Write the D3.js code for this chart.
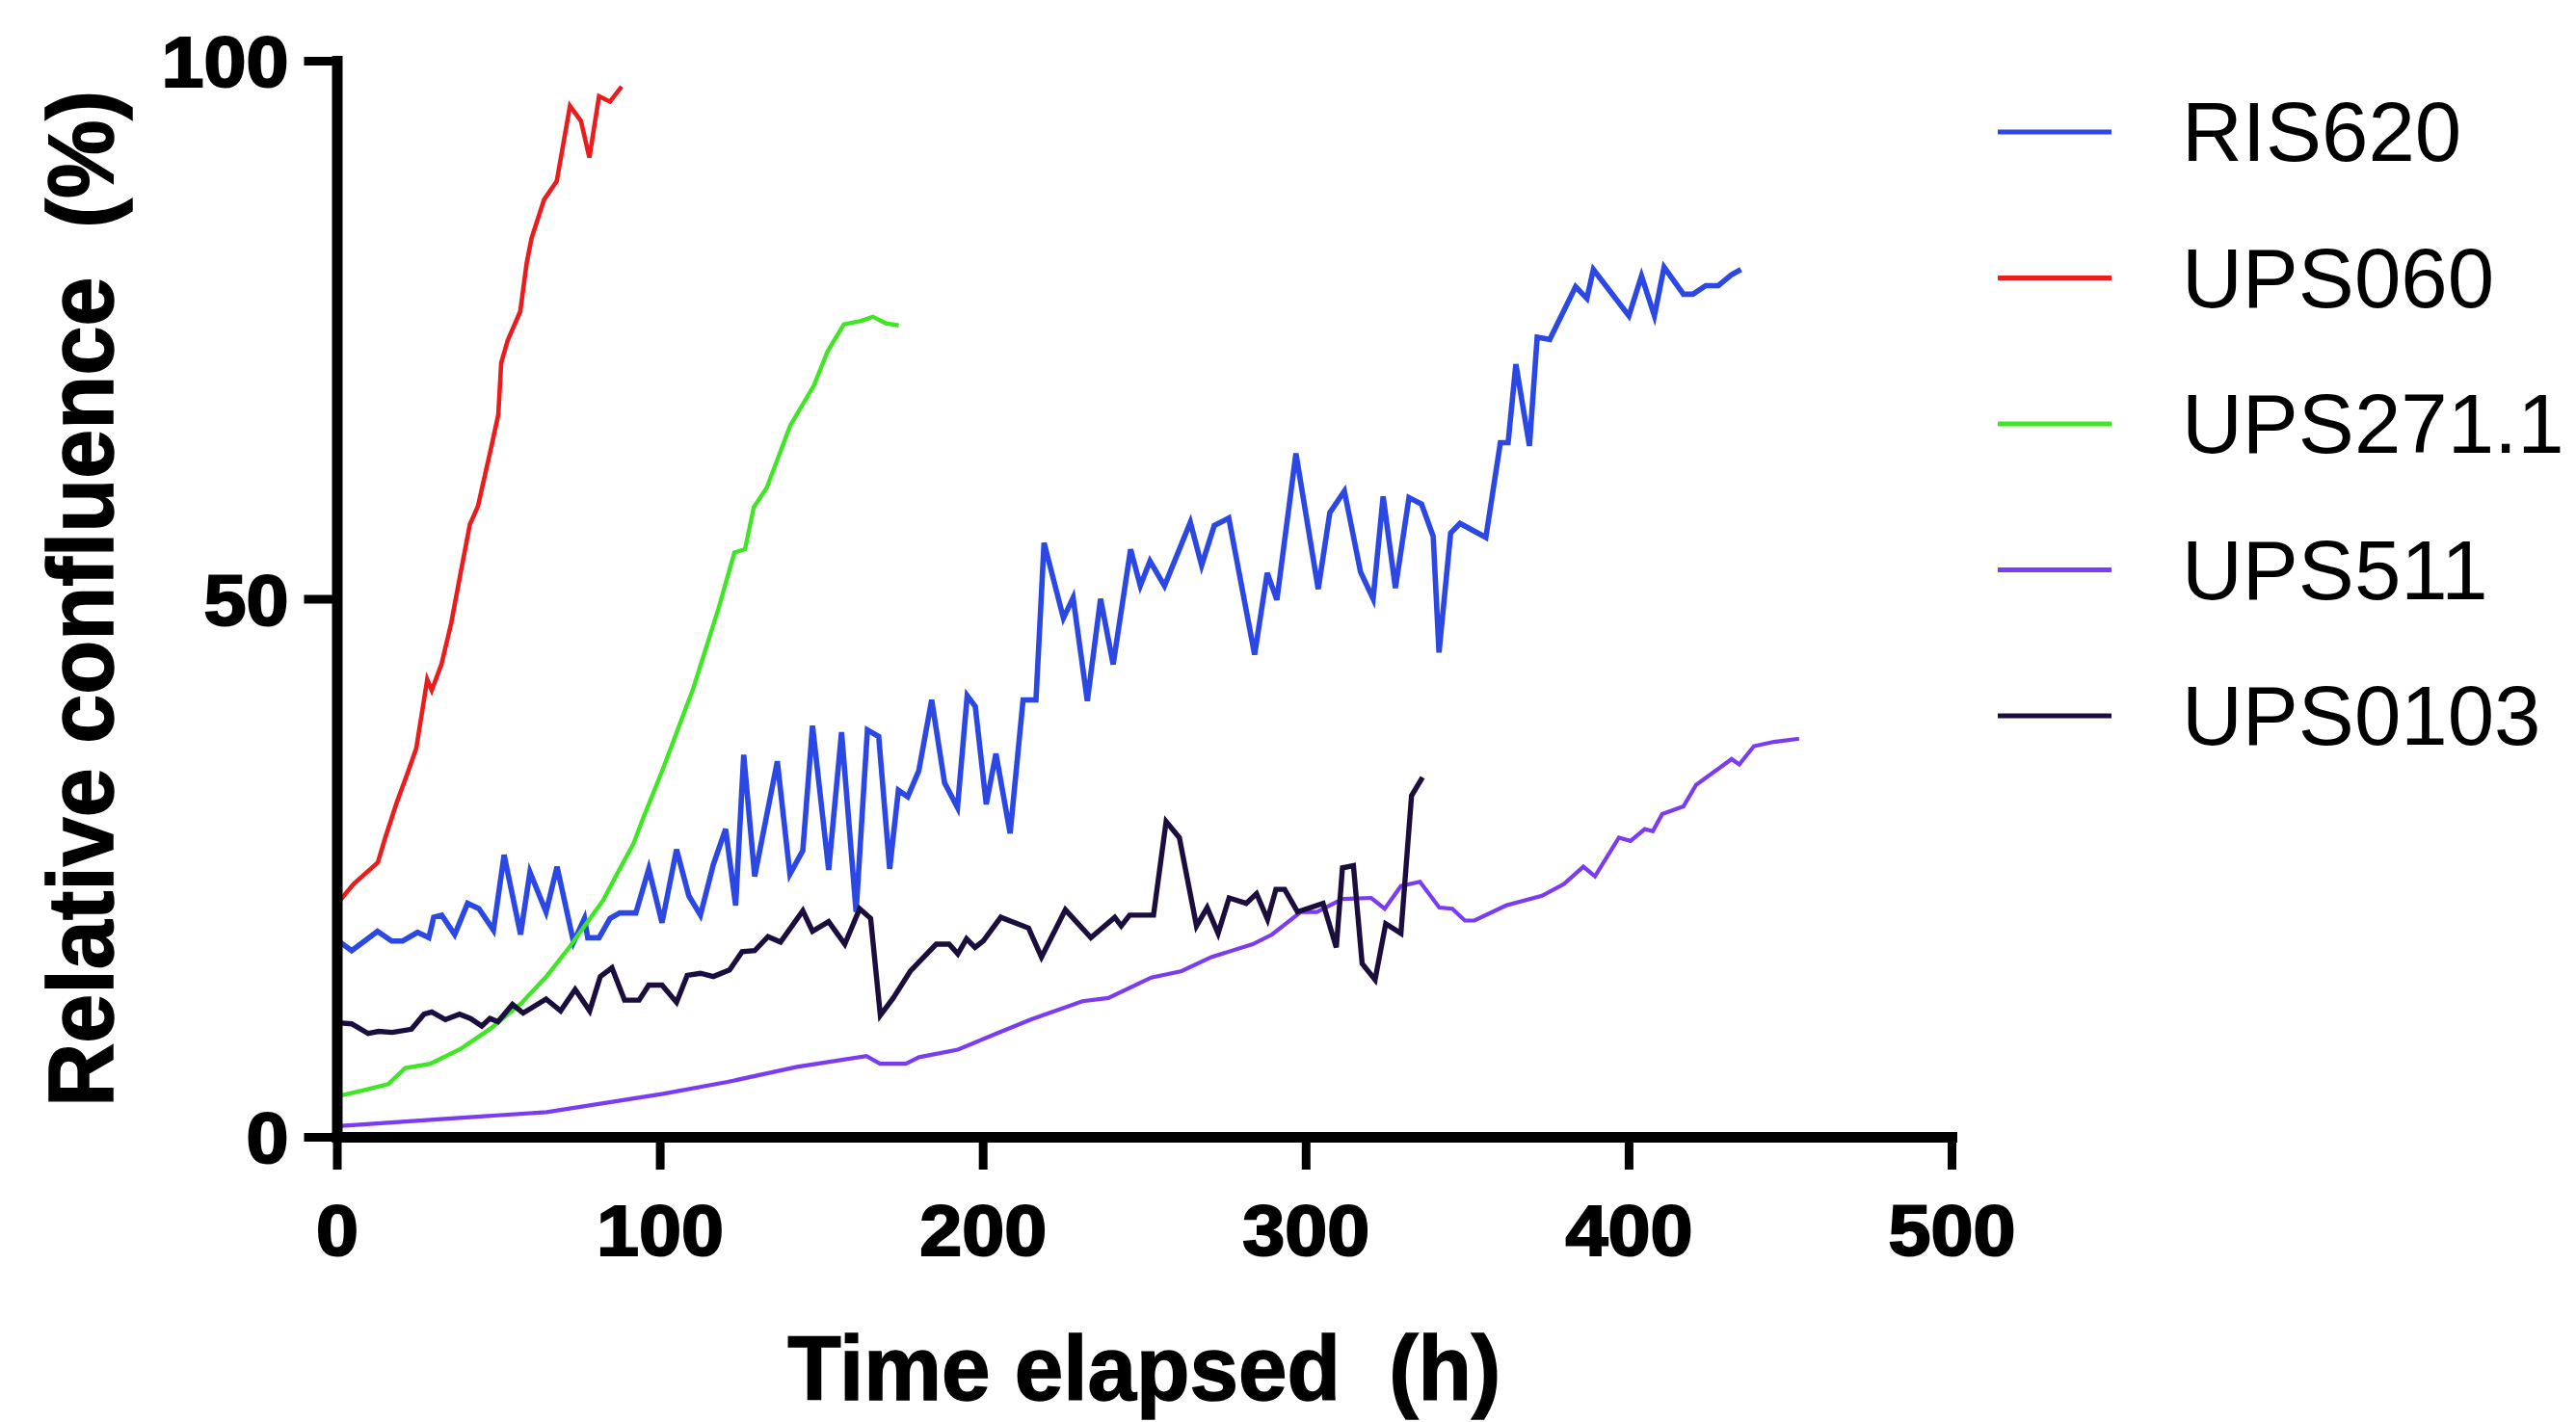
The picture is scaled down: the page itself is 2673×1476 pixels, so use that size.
<!DOCTYPE html>
<html>
<head>
<meta charset="utf-8">
<script src="https://cdn.jsdelivr.net/npm/d3@7"></script>
<style>
  body { margin: 0; background: #fff; }
  text { font-family: "Liberation Sans", Arial, sans-serif; }
</style>
</head>
<body>
<script>
// series: [time (h), relative confluence (%)]
const ris620 = [[0.5,18.2],[4.6,17.3],[12.6,19.1],[17,18.2],[20.4,18.2],[25,19.0],[28.5,18.5],[30,20.4],[32.5,20.6],[36.5,18.8],[40.5,21.7],[44,21.2],[48.5,19.2],[51.8,26.2],[56.9,18.8],[59.8,24.6],[64.8,20.9],[68.2,25.1],[73.3,18.1],[76.7,20.3],[77.7,18.5],[81.2,18.5],[84.6,20.3],[87.6,20.8],[92.6,20.8],[96.6,24.9],[100.7,19.9],[105.2,26.7],[109,22.4],[112.6,20.6],[116.6,25.3],[120.4,28.6],[123.5,21.5],[126,35.5],[129.4,24.2],[136.4,34.9],[140.3,24.4],[144.3,26.6],[147.3,38.2],[152.3,24.8],[156.3,37.6],[160.8,20.9],[164.3,37.8],[167.8,37.2],[171.2,24.9],[173.9,32.2],[176.8,31.6],[180.2,34.0],[184.2,40.6],[188.2,32.9],[192.2,30.6],[195.2,41.0],[197.7,40.0],[201.1,30.9],[204.1,35.6],[208.5,28.2],[212.5,40.6],[216.5,40.6],[219,55.2],[225,48.2],[228,50.1],[232.4,40.5],[236.5,50.0],[240.4,43.9],[245.8,54.6],[248.8,51.2],[251.8,53.5],[256.3,51.2],[264.3,57.1],[267.8,53.1],[271.7,56.8],[276.2,57.5],[284.2,44.8],[288.1,52.4],[291.1,49.9],[297,63.5],[303.9,50.9],[307.5,58.0],[312,60],[317,52.5],[320.9,50.0],[324,59.5],[327.8,51.0],[332,59.4],[335.9,58.8],[339.5,55.8],[341.3,45.0],[344.9,56.1],[347.8,57.0],[355.8,55.7],[360.3,64.5],[362.7,64.5],[365.1,71.8],[369.3,64.2],[371.7,74.3],[375.6,74.1],[383.6,79.0],[387.1,77.9],[389.1,80.6],[400.1,76.3],[404,80.0],[408,76.3],[411,80.8],[417,78.3],[419.9,78.3],[423.9,79.1],[427.8,79.1],[431.8,80.1],[434.8,80.6]];
const ups060 = [[0.5,21.8],[5.2,23.5],[12.7,25.5],[15,27.8],[18.6,31.1],[21.9,33.8],[24.6,36.1],[28,42.5],[29.4,41.5],[32.4,43.9],[35.4,47.7],[38.4,52.5],[41.2,56.9],[43.7,58.6],[47.9,64.2],[50,67.1],[50.9,71.9],[52.9,74.0],[56.8,76.7],[58.8,81.2],[60.3,83.5],[64.2,87.1],[68.1,88.8],[72.2,95.8],[75.6,94.4],[78.2,91.0],[81.2,96.7],[84.6,96.2],[88.2,97.6]];
const ups271 = [[0.5,3.8],[8,4.3],[15.9,4.9],[21.2,6.4],[29,6.8],[38.5,8.2],[47.8,10.1],[57.1,12.4],[65.2,15.0],[72.2,17.7],[82.5,22.0],[86.7,24.4],[91.8,27.2],[94.7,29.5],[101,34.2],[110.4,41.7],[118.3,49.2],[123.1,54.3],[126.4,54.6],[129.1,58.5],[133.1,60.3],[140.4,66.1],[147.7,69.8],[152,73],[157,75.5],[162,75.8],[166,76.2],[170,75.6],[174,75.4]];
const ups511 = [[0.5,1.0],[30,1.6],[65,2.3],[101,4.0],[121,5.1],[142.5,6.5],[164,7.5],[168.2,6.8],[176.2,6.8],[180.3,7.4],[192.3,8.1],[204.3,9.6],[214.9,10.9],[230.9,12.6],[238.9,12.9],[252.2,14.8],[261.6,15.4],[270.8,16.7],[283.6,17.9],[289.6,18.8],[298.5,20.9],[303.5,20.9],[311.4,22.1],[320.3,22.2],[324.5,21.2],[329.5,23.3],[335.4,23.7],[341.4,21.3],[345.4,21.2],[349.3,20.1],[352.3,20.1],[362.1,21.5],[373.2,22.4],[380,23.5],[386,25.1],[389.6,24.2],[397,27.8],[400.6,27.5],[405,28.6],[407.5,28.4],[410.4,30.0],[417,30.7],[420.9,32.7],[431.9,35.1],[434.3,34.6],[438.8,36.3],[445,36.7],[452.8,37.0]];
const ups0103 = [[0.5,10.6],[4.6,10.5],[9.7,9.6],[13,9.8],[17.1,9.7],[23.1,10.0],[27,11.4],[29.4,11.6],[33.6,10.9],[38,11.4],[41.4,11.0],[44.9,10.3],[47.4,11.0],[49.9,10.7],[54.4,12.3],[57.7,11.5],[64.8,12.8],[69.3,11.7],[73.8,13.7],[78.3,11.7],[81.6,14.9],[85.2,15.7],[89.1,12.7],[93.6,12.7],[96.6,14.1],[100.7,14.1],[105.2,12.5],[108.5,15.0],[112.6,15.2],[116.6,14.9],[121.6,15.5],[125.5,17.2],[129.4,17.3],[133.5,18.6],[137.4,18.1],[144.3,21.0],[147.3,19.1],[152.3,20.0],[157.3,17.9],[161.9,21.2],[165.3,20.3],[168.3,11.3],[172.3,12.9],[177.6,15.4],[185.6,17.9],[189.6,17.9],[192.3,17.0],[195,18.4],[197.6,17.6],[200.2,18.2],[205.6,20.4],[214.2,19.4],[218.2,16.7],[225.6,21.1],[233.5,18.5],[240.9,20.4],[242.9,19.6],[245.5,20.6],[252.9,20.6],[256.8,29.3],[260.9,27.8],[266.2,19.6],[269.5,21.3],[272.9,18.9],[276.3,22.2],[281.6,21.7],[284.8,22.6],[288.2,20.2],[290.8,23.0],[293.5,23.0],[297.5,20.9],[305.4,21.7],[309.5,17.6],[311.4,25.0],[314.8,25.2],[317.5,16.1],[321.5,14.6],[324.8,19.8],[329.5,18.9],[332.8,31.7],[336.2,33.4]];

const seriesNames = ["RIS620", "UPS060", "UPS271.1", "UPS511", "UPS0103"];
const seriesData = [ris620, ups060, ups271, ups511, ups0103];
const seriesColors = ["#2b47e4", "#ea1c1c", "#3ee624", "#7a3cf2", "#1b0d3e"];
const seriesWidths = [5.6, 4.6, 4.4, 4.2, 5.4];

const xTicks = [0, 100, 200, 300, 400, 500];
const yTicks = [0, 50, 100];

const width = 2673, height = 1476;

const x = d3.scaleLinear().domain([0, 500]).range([349.5, 2025]);
const y = d3.scaleLinear().domain([0, 100]).range([1180, 63]);

const svg = d3.select("body").append("svg")
    .attr("width", width).attr("height", height);

svg.append("rect").attr("width", width).attr("height", height).attr("fill", "#fff");

const line = d3.line()
    .x(function (d) { return x(d[0]); })
    .y(function (d) { return y(d[1]); });

svg.selectAll("path.series")
    .data(seriesData).enter()
    .append("path")
    .attr("class", "series")
    .attr("d", line)
    .attr("fill", "none")
    .attr("stroke", function (d, i) { return seriesColors[i]; })
    .attr("stroke-width", function (d, i) { return seriesWidths[i]; })
    .attr("stroke-linejoin", "miter");

function styleAxis(g) {
    g.select(".domain").attr("stroke", "#000").attr("stroke-width", 11).attr("stroke-linecap", "square");
    g.selectAll(".tick line").attr("stroke", "#000").attr("stroke-width", 9);
    g.selectAll(".tick text")
        .attr("fill", "#000")
        .attr("stroke", "#000").attr("stroke-width", 2)
        .attr("font-size", 74)
        .attr("font-weight", "bold")
        .attr("font-family", "'Liberation Sans', Arial, sans-serif")
        .attr("textLength", function (d) { return 44 * String(d).length; })
        .attr("lengthAdjust", "spacingAndGlyphs");
}

svg.append("g")
    .attr("transform", "translate(" + x(0) + ",0)")
    .call(d3.axisLeft(y).tickValues(yTicks).tickSize(34).tickPadding(16).tickSizeOuter(0))
    .call(styleAxis)
    .selectAll(".tick text").attr("dy", "0.36em");

svg.append("g")
    .attr("transform", "translate(0," + y(0) + ")")
    .call(d3.axisBottom(x).tickValues(xTicks).tickSize(34).tickPadding(36).tickSizeOuter(0))
    .call(styleAxis);

svg.append("text")
    .attr("x", x(250)).attr("y", 1453)
    .attr("text-anchor", "middle")
    .attr("font-size", 95).attr("font-weight", "bold")
    .attr("stroke", "#000").attr("stroke-width", 1.5)
    .attr("xml:space", "preserve").style("white-space", "pre")
    .attr("textLength", 740).attr("lengthAdjust", "spacingAndGlyphs")
    .text("Time elapsed  (h)");

svg.append("text")
    .attr("transform", "translate(117," + y(50) + ") rotate(-90)")
    .attr("text-anchor", "middle")
    .attr("font-size", 96).attr("font-weight", "bold")
    .attr("stroke", "#000").attr("stroke-width", 1.5)
    .attr("xml:space", "preserve").style("white-space", "pre")
    .attr("textLength", 1055).attr("lengthAdjust", "spacingAndGlyphs")
    .text("Relative confluence  (%)");

const legend = svg.append("g").selectAll("g")
    .data(seriesNames).enter()
    .append("g")
    .attr("transform", function (d, i) { return "translate(0," + (137 + i * 151.5) + ")"; });

legend.append("line")
    .attr("x1", 2073).attr("x2", 2191)
    .attr("stroke", function (d, i) { return seriesColors[i]; })
    .attr("stroke-width", 5);

legend.append("text")
    .attr("x", 2264).attr("dy", "0.35em")
    .attr("font-size", 87)
    .attr("fill", "#000")
    .text(function (d) { return d; });
</script>
</body>
</html>
